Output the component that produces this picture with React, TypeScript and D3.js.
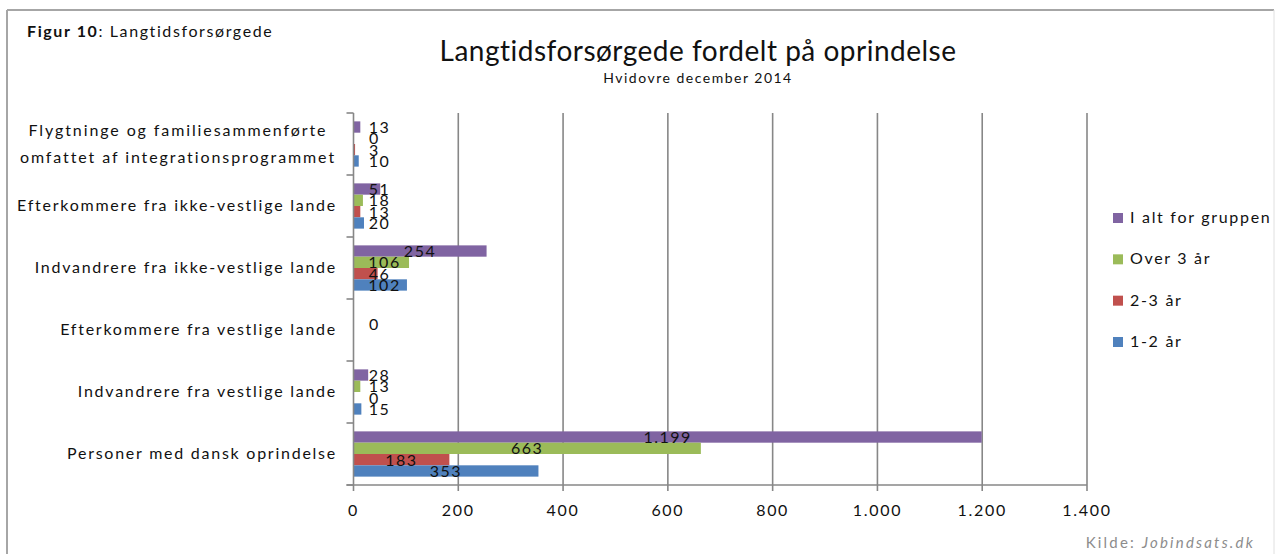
import React from "react";
import * as d3 from "d3";

const categories: string[][] = [
  ["Flygtninge og familiesammenførte", "omfattet af integrationsprogrammet"],
  ["Efterkommere fra ikke-vestlige lande"],
  ["Indvandrere fra ikke-vestlige lande"],
  ["Efterkommere fra vestlige lande"],
  ["Indvandrere fra vestlige lande"],
  ["Personer med dansk oprindelse"],
];

const seriesNames = ["I alt for gruppen", "Over 3 år", "2-3 år", "1-2 år"];
const seriesColors = ["#8064A2", "#9BBB59", "#C0504D", "#4F81BD"];

const iAlt: (number | null)[] = [13, 51, 254, null, 28, 1199];
const over3: (number | null)[] = [0, 18, 106, 0, 13, 663];
const aar23: (number | null)[] = [3, 13, 46, null, 0, 183];
const aar12: (number | null)[] = [10, 20, 102, null, 15, 353];
const seriesValues = [iAlt, over3, aar23, aar12];

const xTicks = [0, 200, 400, 600, 800, 1000, 1200, 1400];

const locale = d3.formatLocale({ decimal: ",", thousands: ".", grouping: [3], currency: ["", " kr."] });
const fmt = locale.format(",d");

const W = 1275;
const H = 554;
const FONT = "Lato, 'Open Sans', sans-serif";

export default function App() {
  const x0 = 353.5, x1 = 1087, yTop = 113, yBot = 485;
  const x = d3.scaleLinear().domain([0, 1400]).range([x0, x1]);
  const y = d3.scaleBand<number>().domain(d3.range(categories.length)).range([yTop, yBot]).paddingInner(0.27).paddingOuter(0.135);
  const yi = d3.scaleBand<number>().domain(d3.range(seriesNames.length)).range([0, y.bandwidth()]);
  const step = y.step();
  const bandStarts = d3.range(categories.length + 1).map((i) => yTop + i * step);
  const legendY = d3.scaleLinear().domain([0, 3]).range([218, 342]);

  return (
    <svg width={W} height={H} style={{ position: "absolute", left: 0, top: 0, background: "#fff" }} fontFamily={FONT}>
      <rect x={0} y={0} width={W} height={H} fill="#fff" />
      {/* frame */}
      <line x1={7} y1={10} x2={1274} y2={10} stroke="#a6a6a6" strokeWidth={2} />
      <line x1={7} y1={10} x2={7} y2={H} stroke="#a6a6a6" strokeWidth={2} />
      <line x1={1274} y1={10} x2={1274} y2={H} stroke="#e0e0e0" strokeWidth={1} />

      <text x={27} y={37} fontSize={16} fill="#111" letterSpacing={1.6}>
        <tspan fontWeight="bold">Figur 10</tspan>: Langtidsforsørgede
      </text>

      <text x={698} y={61} textAnchor="middle" fontSize={28} fill="#111" letterSpacing={0.5}>
        Langtidsforsørgede fordelt på oprindelse
      </text>
      <text x={698} y={83} textAnchor="middle" fontSize={14} fill="#111" letterSpacing={1.5}>
        Hvidovre december 2014
      </text>

      {/* grid */}
      {xTicks.filter((t) => t > 0).map((t) => (
        <line key={"g" + t} x1={x(t)} x2={x(t)} y1={yTop} y2={yBot} stroke="#878787" strokeWidth={1.6} />
      ))}

      {/* bars */}
      {categories.map((_, ci) =>
        seriesValues.map((vals, si) => {
          const v = vals[ci];
          if (v === null) return null;
          const by = (y(ci) as number) + (yi(si) as number);
          return (
            <rect key={`b${ci}-${si}`} x={x(0)} y={by} width={x(v) - x(0)} height={yi.bandwidth()} fill={seriesColors[si]} />
          );
        })
      )}

      {/* axes */}
      <line x1={x0} x2={x0} y1={yTop} y2={yBot} stroke="#878787" strokeWidth={1.6} />
      {bandStarts.map((b, i) => (
        <line key={"yt" + i} x1={x0 - 7} x2={x0} y1={b} y2={b} stroke="#878787" strokeWidth={1.6} />
      ))}
      <line x1={x0 - 7} x2={x1} y1={yBot} y2={yBot} stroke="#878787" strokeWidth={1.6} />
      {xTicks.map((t) => (
        <g key={"xt" + t}>
          <line x1={x(t)} x2={x(t)} y1={yBot} y2={yBot + 6} stroke="#878787" strokeWidth={1.6} />
          <text x={x(t)} y={516} textAnchor="middle" fontSize={16} fill="#111" letterSpacing={1.7}>
            {fmt(t)}
          </text>
        </g>
      ))}

      {/* value labels */}
      {categories.map((_, ci) =>
        seriesValues.map((vals, si) => {
          const v = vals[ci];
          if (v === null) return null;
          const s = fmt(v);
          const w = s.length * 10;
          const center = (x(0) + x(v)) / 2;
          const cx = Math.max(center, x(0) + 16 + w / 2);
          const by = (y(ci) as number) + (yi(si) as number) + yi.bandwidth() / 2;
          return (
            <text key={`l${ci}-${si}`} x={cx} y={by + 6} textAnchor="middle" fontSize={16} fill="#111" letterSpacing={1.5}>
              {s}
            </text>
          );
        })
      )}

      {/* category labels */}
      {categories.map((lines, ci) => {
        const cy = (y(ci) as number) + y.bandwidth() / 2;
        if (lines.length === 1) {
          return (
            <text key={"c" + ci} x={337} y={cy + 5} textAnchor="end" fontSize={16} fill="#111" letterSpacing={1.75}>
              {lines[0]}
            </text>
          );
        }
        return (
          <text key={"c" + ci} x={178} textAnchor="middle" fontSize={16} fill="#111" letterSpacing={1.9}>
            {lines.map((l, li) => (
              <tspan key={li} x={178} y={cy + 5 + (li - (lines.length - 1) / 2) * 27}>
                {l}
              </tspan>
            ))}
          </text>
        );
      })}

      {/* legend */}
      {seriesNames.map((n, si) => (
        <g key={"lg" + si}>
          <rect x={1113} y={legendY(si) - 5} width={10} height={10} fill={seriesColors[si]} />
          <text x={1130} y={legendY(si) + 5} fontSize={16} fill="#111" letterSpacing={1.7}>
            {n}
          </text>
        </g>
      ))}

      <text x={1255} y={548} textAnchor="end" fontSize={15} fill="#8c8c8c" letterSpacing={2.2}>
        Kilde: <tspan fontStyle="italic">Jobindsats.dk</tspan>
      </text>
    </svg>
  );
}
